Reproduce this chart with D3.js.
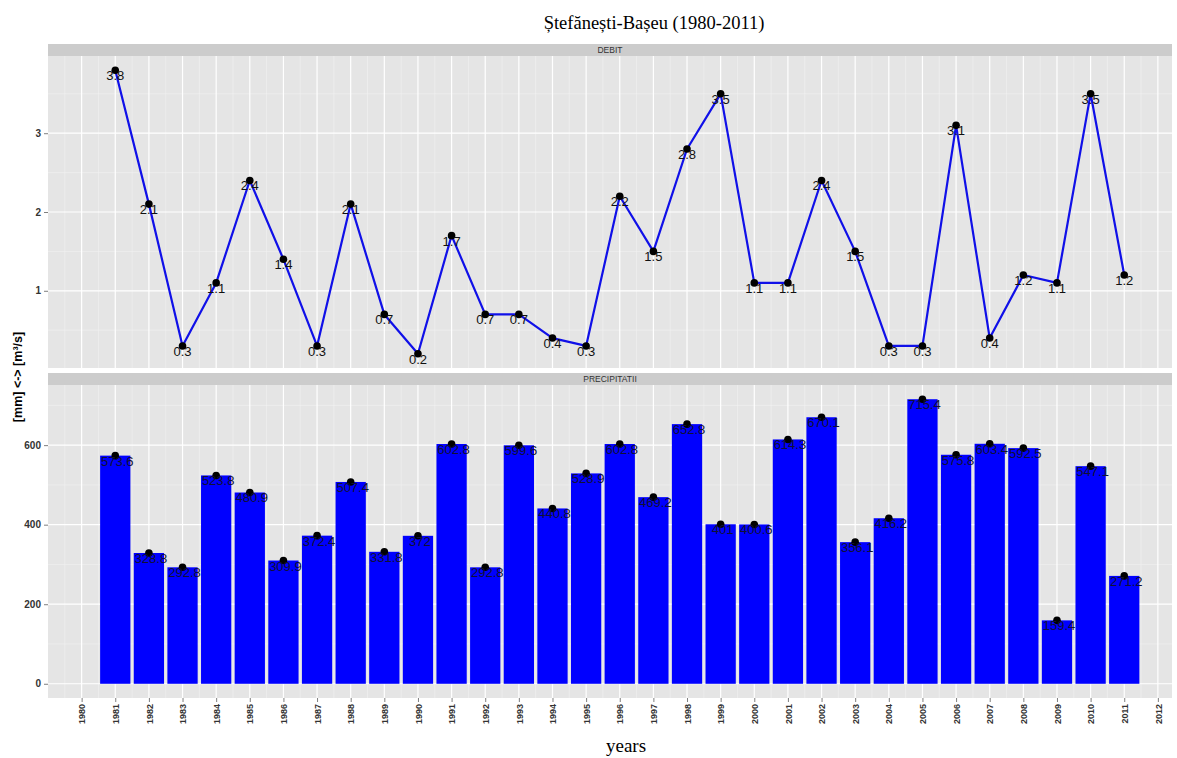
<!DOCTYPE html>
<html>
<head>
<meta charset="utf-8">
<script src="https://cdn.jsdelivr.net/npm/d3@7"></script>
<style>
  body { margin: 0; background: #fff; }
  svg { display: block; }
</style>
</head>
<body>
<svg id="chart" width="1177" height="758"></svg>
<script>
// Annual discharge and precipitation, Ștefănești station on the Bașeu river
const years = [1981, 1982, 1983, 1984, 1985, 1986, 1987, 1988, 1989, 1990,
  1991, 1992, 1993, 1994, 1995, 1996, 1997, 1998, 1999, 2000,
  2001, 2002, 2003, 2004, 2005, 2006, 2007, 2008, 2009, 2010, 2011];

const debit = [3.8, 2.1, 0.3, 1.1, 2.4, 1.4, 0.3, 2.1, 0.7, 0.2,
  1.7, 0.7, 0.7, 0.4, 0.3, 2.2, 1.5, 2.8, 3.5, 1.1,
  1.1, 2.4, 1.5, 0.3, 0.3, 3.1, 0.4, 1.2, 1.1, 3.5, 1.2];

const precipitatii = [573.6, 328.8, 292.8, 523.8, 480.9, 309.9, 372.4, 507.4, 331.8, 372,
  602.8, 292.8, 599.6, 440.8, 528.9, 602.8, 469.2, 652.8, 401, 400.6,
  614.3, 670.1, 356.1, 416.2, 715.4, 575.8, 603.4, 592.5, 159.4, 547.1, 271.2];

const yearTicks = d3.range(1980, 2013);
const debitTicks = [1, 2, 3];
const precipTicks = [0, 200, 400, 600];

const svg = d3.select("#chart");

const left = 48, right = 1172;
const x = d3.scaleLinear().domain([1979.0, 2012.42]).range([left, right]);

const panels = [
  { name: "DEBIT", stripTop: 44, top: 56, bottom: 368,
    domain: [0.02, 3.98], ticks: debitTicks, minor: [0.5, 1.5, 2.5, 3.5], values: debit, kind: "line" },
  { name: "PRECIPITATII", stripTop: 373, top: 385, bottom: 698,
    domain: [-35.77, 751.17], ticks: precipTicks, minor: [100, 300, 500, 700], values: precipitatii, kind: "bar" }
];

const minorX = d3.range(1979.5, 2012.5, 1);
const sans = "Liberation Sans, Arial, sans-serif";
const serif = "Liberation Serif, Times New Roman, serif";

panels.forEach(p => {
  const y = d3.scaleLinear().domain(p.domain).range([p.bottom, p.top]);
  const g = svg.append("g");

  // facet strip
  g.append("rect").attr("x", left).attr("y", p.stripTop)
    .attr("width", right - left).attr("height", p.top - p.stripTop)
    .attr("fill", "#CCCCCC");
  g.append("text").attr("x", (left + right) / 2).attr("y", (p.stripTop + p.top) / 2 + 3)
    .attr("text-anchor", "middle").attr("font-family", sans)
    .attr("font-size", 8.5).attr("fill", "#333").text(p.name);

  // panel background
  g.append("rect").attr("x", left).attr("y", p.top)
    .attr("width", right - left).attr("height", p.bottom - p.top)
    .attr("fill", "#E5E5E5");

  // minor grid
  g.selectAll(".mx").data(minorX).join("line")
    .attr("x1", d => x(d)).attr("x2", d => x(d))
    .attr("y1", p.top).attr("y2", p.bottom)
    .attr("stroke", "#F2F2F2").attr("stroke-width", 0.6);
  g.selectAll(".my").data(p.minor.filter(v => v > p.domain[0] && v < p.domain[1])).join("line")
    .attr("x1", left).attr("x2", right)
    .attr("y1", d => y(d)).attr("y2", d => y(d))
    .attr("stroke", "#F2F2F2").attr("stroke-width", 0.6);

  // major grid
  g.selectAll(".gx").data(yearTicks).join("line")
    .attr("x1", d => x(d)).attr("x2", d => x(d))
    .attr("y1", p.top).attr("y2", p.bottom)
    .attr("stroke", "#FFFFFF").attr("stroke-width", 1.2);
  g.selectAll(".gy").data(p.ticks).join("line")
    .attr("x1", left).attr("x2", right)
    .attr("y1", d => y(d)).attr("y2", d => y(d))
    .attr("stroke", "#FFFFFF").attr("stroke-width", 1.2);

  // y axis
  const ya = d3.axisLeft(y).tickValues(p.ticks).tickSize(4).tickPadding(3).tickFormat(d3.format("d"));
  const yg = g.append("g").attr("transform", `translate(${left},0)`).call(ya);
  yg.select(".domain").remove();
  yg.selectAll(".tick line").attr("stroke", "#7F7F7F");
  yg.selectAll(".tick text").attr("font-family", sans)
    .attr("font-size", 10).attr("font-weight", "bold").attr("fill", "#333");

  const data = years.map((yr, i) => ({ yr, v: p.values[i] }));
  const fmt = v => String(v);

  if (p.kind === "bar") {
    const bw = x(1979.9) - x(1979);
    g.selectAll(".bar").data(data).join("rect")
      .attr("x", d => x(d.yr) - bw / 2).attr("width", bw)
      .attr("y", d => y(d.v)).attr("height", d => y(0) - y(d.v))
      .attr("fill", "#0000FF");
  } else {
    const line = d3.line().x(d => x(d.yr)).y(d => y(d.v));
    g.append("path").datum(data).attr("d", line)
      .attr("fill", "none").attr("stroke", "#1010E8").attr("stroke-width", 2.2)
      .attr("stroke-linejoin", "round");
  }

  g.selectAll(".pt").data(data).join("circle")
    .attr("cx", d => x(d.yr)).attr("cy", d => y(d.v)).attr("r", 3.8)
    .attr("fill", "#000");

  g.selectAll(".lbl").data(data).join("text")
    .attr("x", d => x(d.yr) + (p.kind === "bar" ? 2 : 0)).attr("y", d => y(d.v) + 10)
    .attr("text-anchor", "middle")
    .attr("font-family", sans)
    .attr("font-size", 13).attr("fill", p.kind === "bar" ? "#111133" : "#111")
    .text(d => fmt(d.v));

  if (p.kind === "bar") {
    // x axis below the lower panel
    const xa = d3.axisBottom(x).tickValues(yearTicks).tickSize(4).tickPadding(3).tickFormat(d3.format("d"));
    const xg = svg.append("g").attr("transform", `translate(0,${p.bottom})`).call(xa);
    xg.select(".domain").remove();
    xg.selectAll(".tick line").attr("stroke", "#7F7F7F");
    xg.selectAll(".tick text")
      .attr("font-family", sans)
      .attr("font-size", 9).attr("font-weight", "bold").attr("fill", "#333")
      .attr("text-anchor", "end").attr("dy", "0.35em")
      .attr("transform", "translate(0,6) rotate(-90)")
      .attr("x", 0).attr("y", 0);
  }
});

// titles
svg.append("text").attr("x", 654).attr("y", 29).attr("text-anchor", "middle")
  .attr("font-family", serif).attr("font-size", 18.5)
  .attr("fill", "#000").text("Ștefănești-Bașeu (1980-2011)");

svg.append("text").attr("x", 626).attr("y", 752).attr("text-anchor", "middle")
  .attr("font-family", serif).attr("font-size", 19)
  .attr("fill", "#000").text("years");

svg.append("text").attr("transform", "translate(22,377) rotate(-90)").attr("text-anchor", "middle")
  .attr("font-family", sans).attr("font-size", 12.5)
  .attr("font-weight", "bold").attr("fill", "#000")
  .text("[mm] <-> [m³/s]");
</script>
</body>
</html>
